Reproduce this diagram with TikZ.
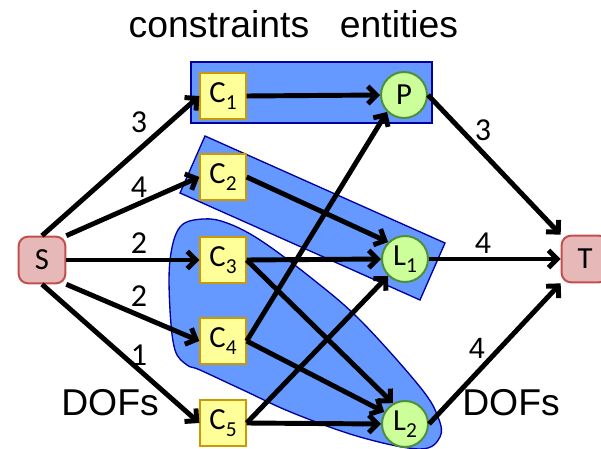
\documentclass[tikz,border=0pt]{standalone}
\usepackage{fontspec}
\setmainfont{Liberation Sans}
\newfontfamily\calfont{Carlito}
\usetikzlibrary{arrows.meta}

\definecolor{grpblue}{HTML}{6699FF}
\definecolor{grpline}{HTML}{0000A0}
\definecolor{cfill}{HTML}{FFFF99}
\definecolor{cline}{HTML}{CC9900}
\definecolor{efill}{HTML}{CCFF99}
\definecolor{eline}{HTML}{4E8F3A}
\definecolor{tfill}{HTML}{E6B9B8}
\definecolor{tline}{HTML}{C0504D}

\newcommand{\idx}[1]{\raisebox{-0.25em}{\fontsize{16}{16}\selectfont #1}}

\tikzset{
  cbox/.style={draw=cline, fill=cfill, line width=1.5pt, minimum size=34pt, inner sep=0pt,
    font=\calfont\fontsize{23}{23}\selectfont},
  ent/.style={circle, draw=eline, fill=efill, line width=1.5pt, minimum size=34.5pt, inner sep=0pt,
    font=\calfont\fontsize{23}{23}\selectfont},
  term/.style={draw=tline, fill=tfill, rounded corners=7pt, line width=1.5pt, minimum size=35pt,
    inner sep=0pt, font=\calfont\fontsize{23}{23}\selectfont},
  grp/.style={draw=grpline, fill=grpblue, line width=1pt},
  flow/.style={line width=3.7pt, line join=round, -{Straight Barb[length=6.5pt,width=13pt]}},
  num/.style={inner sep=0pt, font=\calfont\fontsize{24}{24}\selectfont},
  title/.style={inner sep=0pt, font=\fontsize{28}{28}\selectfont},
}

\begin{document}
\begin{tikzpicture}[x=0.75pt, y=-0.75pt]
  \useasboundingbox (0,0) rectangle (601,449);

  % groups
  \draw[grp] (191,62) rectangle (432,123);
  \draw[grp] (205,136) -- (445,243) -- (420,300) -- (180,193) -- cycle;
  \draw[grp] plot[smooth cycle, tension=0.6] coordinates {
    (203,219) (227,223) (260,240) (310,277) (360,320) (420,387) (438,417)
    (440,437) (420,449) (360,437) (293,413) (243,390) (200,370) (187,365)
    (175,350) (170,310) (170,260) (180,227)};

  % nodes
  \node[term] (S) at (42,260) {S};
  \node[term] (T) at (585,259) {T};
  \node[cbox] (C1) at (223,96) {C\idx{1}};
  \node[cbox] (C2) at (223,177) {C\idx{2}};
  \node[cbox] (C3) at (223,260) {C\idx{3}};
  \node[cbox] (C4) at (223,341) {C\idx{4}};
  \node[cbox] (C5) at (223,423) {C\idx{5}};
  \node[ent] (P) at (404,95) {P};
  \node[ent] (L1) at (405,259) {L\idx{1}};
  \node[ent] (L2) at (405,424) {L\idx{2}};

  % flows
  \draw[flow] (S.north) -- (C1.west);
  \draw[flow] (S.north east) -- (C2.west);
  \draw[flow] (S.east) -- (C3.west);
  \draw[flow] (S.south east) -- (C4.west);
  \draw[flow] (S.south) -- (C5.west);
  \draw[flow] (C1.east) -- (P.west);
  \draw[flow] (C2.east) -- (L1.north west);
  \draw[flow] (C3.east) -- (L1.west);
  \draw[flow] (C3.east) -- (L2.120);
  \draw[flow] (C4.east) -- (P.south west);
  \draw[flow] (C4.east) -- (L2.150);
  \draw[flow] (C5.east) -- (L1.south west);
  \draw[flow] (C5.east) -- (L2.west);
  \draw[flow] (P.east) -- (T.north west);
  \draw[flow] (L1.east) -- (T.west);
  \draw[flow] (L2.east) -- (T.south west);

  % capacities
  \node[num] (n1) at (139,122) {3};
  \node[num] (n2) at (139,187) {4};
  \node[num] (n3) at (139,243) {2};
  \node[num] (n4) at (139,296) {2};
  \node[num] (n5) at (139,355) {1};
  \node[num] (n6) at (483,130) {3};
  \node[num] (n7) at (483,243) {4};
  \node[num, font=\fontsize{22}{22}\selectfont] (n8) at (477,348) {4};

  % headings
  \node[title] (cons) at (219,24) {constraints};
  \node[title] (ents) at (399,24) {entities};
  \node[title] (dofl) at (110,403) {DOFs};
  \node[title] (dofr) at (511,403) {DOFs};
\end{tikzpicture}
\end{document}
